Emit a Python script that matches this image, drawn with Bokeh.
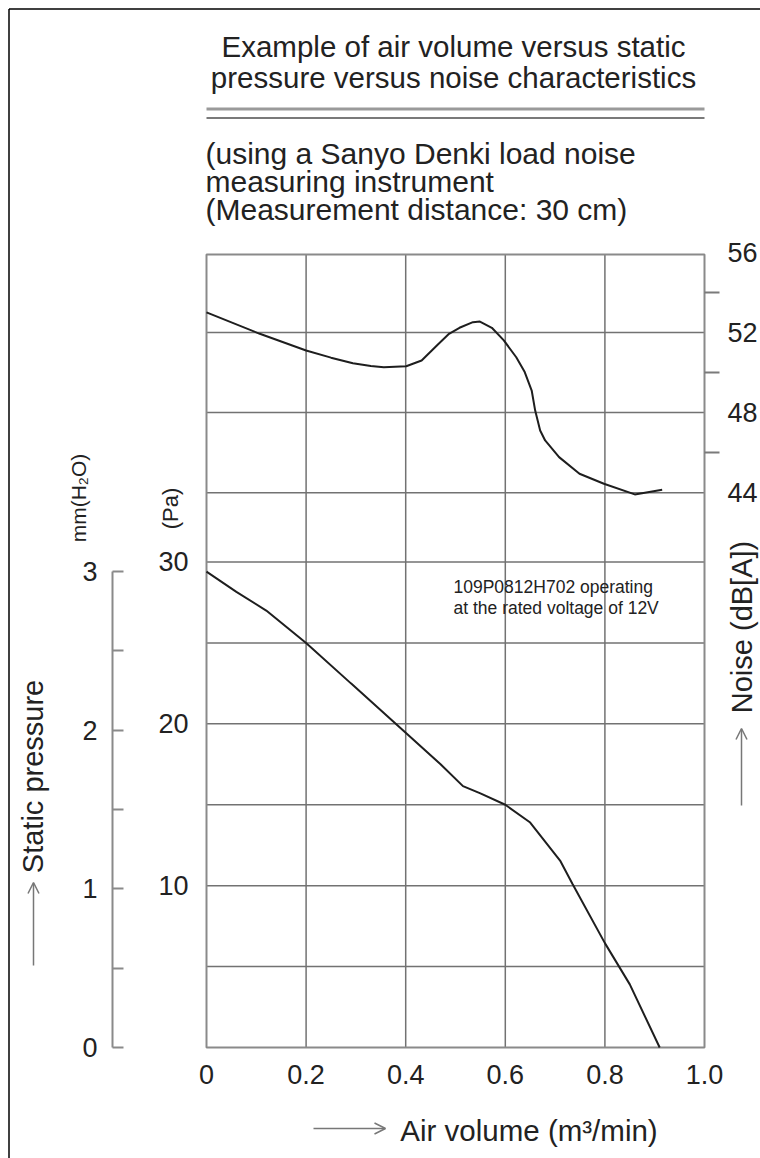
import math
from bokeh.plotting import figure
from bokeh.models import (Range1d, LinearAxis, FixedTicker, Label, Arrow,
                          OpenHead, CustomJSTickFormatter)
from bokeh.embed import file_html
from bokeh.resources import INLINE

# ---------------- data ----------------
# static pressure curve (air volume m3/min -> Pa)
air_sp = [0.0, 0.06, 0.12, 0.20, 0.29, 0.40, 0.47, 0.515, 0.55, 0.60,
          0.65, 0.71, 0.735, 0.80, 0.85, 0.91]
pa_sp = [29.4, 28.15, 27.0, 25.0, 22.5, 19.45, 17.5, 16.15, 15.7, 15.0,
         13.9, 11.55, 10.1, 6.45, 3.9, 0.0]

# noise curve (air volume m3/min -> dB[A])
air_noise = [0.0, 0.107, 0.20, 0.25, 0.294, 0.33, 0.356, 0.401, 0.432, 0.459, 0.487,
             0.508, 0.535, 0.549, 0.573, 0.597, 0.622, 0.639, 0.653, 0.660, 0.670,
             0.680, 0.708, 0.749, 0.798, 0.860, 0.915]
noise_db = [53.0, 51.93, 51.1, 50.74, 50.46, 50.32, 50.26, 50.31, 50.60, 51.26, 51.93,
            52.23, 52.51, 52.54, 52.23, 51.60, 50.76, 50.02, 49.10, 48.10, 47.11,
            46.61, 45.78, 44.95, 44.45, 43.92, 44.15]

x_ticks = [0, 0.2, 0.4, 0.6, 0.8, 1.0]
x_grid = [0.2, 0.4, 0.6, 0.8]
pa_ticks = [10, 20, 30]
pa_grid = [5, 10, 15, 20, 25, 30]
mm_ticks = [0, 1, 2, 3]
mm_minor = [0.5, 1.5, 2.5]
noise_ticks = [44, 48, 52, 56]
noise_minor = [46, 50, 54]
noise_grid = [44, 48, 52]

X_MAX = 1.0
PA_TOP = 49.0
PA_PER_MM = 9.80665

title_lines = ["Example of air volume versus static",
               "pressure versus noise characteristics"]
sub_lines = ["(using a Sanyo Denki load noise",
             "measuring instrument",
             "(Measurement distance: 30 cm)"]
note_lines = ["109P0812H702 operating", "at the rated voltage of 12V"]

FONT = "Liberation Sans"
TXT = "#222222"
GRID = "#727272"
W, H = 760, 1158

# ---------------- layout helpers: page pixel -> data ----------------
# plot frame spans x 206..704 px (0..1.0) and y 1047..254 px (0..49 Pa)
def ax(px):
    return (px - 206.0) / 498.0 * X_MAX

def ay(py):
    return (1047.0 - py) / 793.0 * PA_TOP

def an(py):  # noise scale: 44 dB at 492.3 px, 20.05 px per dB
    return 44.0 + (492.3 - py) / 20.05

p = figure(width=W, height=H, x_range=Range1d(ax(0), ax(W)), y_range=Range1d(ay(H), ay(0)),
           output_backend="svg", toolbar_location=None,
           x_axis_location=None, y_axis_location=None,
           min_border=0, min_border_left=0, min_border_right=0,
           min_border_top=0, min_border_bottom=0)
p.background_fill_color = "white"
p.border_fill_color = "white"
p.outline_line_color = None
for g in list(p.center):
    g.visible = False

p.extra_y_ranges = {"mm": Range1d(ay(H) / PA_PER_MM, ay(0) / PA_PER_MM),
                    "noise": Range1d(an(H), an(0))}

# ---------------- grid and frame ----------------
p.segment(x0=x_grid, y0=[0] * len(x_grid), x1=x_grid, y1=[PA_TOP] * len(x_grid),
          line_color=GRID, line_width=1.5)
p.segment(x0=[0] * len(pa_grid), y0=pa_grid, x1=[X_MAX] * len(pa_grid), y1=pa_grid,
          line_color=GRID, line_width=1.5)
p.segment(x0=[0] * len(noise_grid), y0=noise_grid, x1=[X_MAX] * len(noise_grid), y1=noise_grid,
          y_range_name="noise", line_color=GRID, line_width=1.5)
p.quad(left=[0], right=[X_MAX], bottom=[0], top=[PA_TOP], fill_color=None,
       line_color="#8a8a8a", line_width=2)

# ---------------- axes ----------------
common = dict(major_label_text_font=FONT, major_label_text_font_size="27px",
              major_label_text_color=TXT)

xa = LinearAxis(fixed_location=0, bounds=(0, X_MAX), ticker=FixedTicker(ticks=x_ticks),
                formatter=CustomJSTickFormatter(code="return tick == 0 ? '0' : tick.toFixed(1)"),
                axis_line_color=None, major_tick_in=0, major_tick_out=0,
                minor_tick_in=0, minor_tick_out=0, major_label_standoff=17, **common)
p.add_layout(xa, "below")

ya = LinearAxis(fixed_location=0, bounds=(0, 30), ticker=FixedTicker(ticks=pa_ticks),
                axis_line_color=None, major_tick_in=0, major_tick_out=0,
                minor_tick_in=0, minor_tick_out=0, major_label_standoff=18, **common)
p.add_layout(ya, "left")

mm_axis = LinearAxis(y_range_name="mm", fixed_location=ax(112), bounds=(0, 3),
                     ticker=FixedTicker(ticks=mm_ticks, minor_ticks=mm_minor),
                     major_tick_in=11, major_tick_out=0, minor_tick_in=11, minor_tick_out=0,
                     axis_line_color="#8a8a8a", axis_line_width=2,
                     major_tick_line_color="#8a8a8a", major_tick_line_width=2,
                     minor_tick_line_color="#8a8a8a", minor_tick_line_width=2,
                     major_label_standoff=15, **common)
p.add_layout(mm_axis, "left")

noise_axis = LinearAxis(y_range_name="noise", fixed_location=X_MAX, bounds=(44, 56),
                        ticker=FixedTicker(ticks=noise_ticks, minor_ticks=noise_minor),
                        major_tick_in=0, major_tick_out=0, minor_tick_in=0, minor_tick_out=15,
                        axis_line_color=None,
                        minor_tick_line_color="#7a7a7a", minor_tick_line_width=2,
                        major_label_standoff=8, **common)
p.add_layout(noise_axis, "right")

# ---------------- curves ----------------
p.line(air_sp, pa_sp, line_color="#1e1e1e", line_width=2)
p.line(air_noise, noise_db, y_range_name="noise", line_color="#1e1e1e", line_width=2)

# ---------------- texts ----------------
def lab(x, y, text, size, align="left", baseline="middle", angle=0.0):
    p.add_layout(Label(x=x, y=y, text=text, text_align=align, text_baseline=baseline,
                       angle=angle, text_font=FONT, text_font_size=size, text_color=TXT))

for t, cy in zip(title_lines, [46, 77]):
    lab(ax(453), ay(cy), t, "29.5px", align="center")
for t, cy in zip(sub_lines, [153, 181, 209]):
    lab(ax(205), ay(cy), t, "30px")
for t, cy in zip(note_lines, [586.5, 607]):
    lab(ax(453), ay(cy), t, "17.5px")

lab(ax(77.5), ay(497.5), "mm(H\u2082O)", "21px", align="center", angle=math.pi / 2)
lab(ax(170), ay(508), "(Pa)", "22px", align="center", angle=math.pi / 2)
lab(ax(32), ay(776), "Static pressure", "29px", align="center", angle=math.pi / 2)
lab(ax(741), ay(626.5), "Noise (dB[A])", "29px", align="center", angle=math.pi / 2)
lab(ax(528.5), ay(1130), "Air volume (m\u00b3/min)", "29.5px", align="center")

# ---------------- arrows, rules, page frame ----------------
ARW = "#777777"
def arrow(x0, y0, x1, y1):
    p.add_layout(Arrow(x_start=ax(x0), y_start=ay(y0), x_end=ax(x1), y_end=ay(y1),
                       line_color=ARW, line_width=1.5,
                       end=OpenHead(size=11, line_color=ARW, line_width=1.5)))

arrow(33, 965, 33, 882)
arrow(741, 805, 741, 728)
arrow(313, 1128, 385, 1128)

p.segment(x0=[ax(206)], y0=[ay(108.5)], x1=[ax(704)], y1=[ay(108.5)], line_color="#9a9a9a", line_width=3)
p.segment(x0=[ax(206)], y0=[ay(117.5)], x1=[ax(704)], y1=[ay(117.5)], line_color="#7a7a7a", line_width=2)

p.segment(x0=[ax(8.5)], y0=[ay(8.5)], x1=[ax(8.5)], y1=[ay(H + 5)], line_color="#000000", line_width=1.5)
p.segment(x0=[ax(8.5)], y0=[ay(8.5)], x1=[ax(W + 5)], y1=[ay(8.5)], line_color="#000000", line_width=1.5)

open("out.html", "w").write(file_html(p, INLINE))
